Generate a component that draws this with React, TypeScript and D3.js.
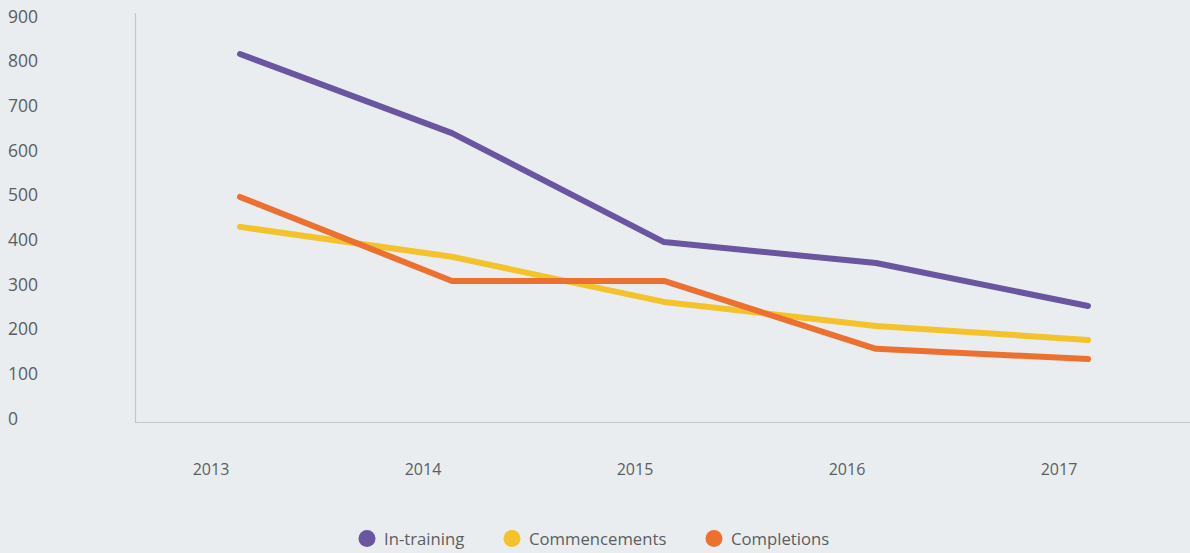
import React from "react";
import * as d3 from "d3";

const years = ["2013", "2014", "2015", "2016", "2017"];
const inTraining = [816, 639, 395, 348, 252];
const commencements = [429, 362, 261, 207, 176];
const completions = [496, 308, 308, 156, 133];
const yTicks = [0, 100, 200, 300, 400, 500, 600, 700, 800, 900];

const seriesNames = ["In-training", "Commencements", "Completions"];
const seriesColors = ["#6a55a0", "#f4c22b", "#ec7130"];

const W = 1190;
const H = 553;
const FONT = "'Open Sans', sans-serif";

export default function App() {
  const x = d3.scalePoint<string>().domain(years).range([240, 1088]);
  const y = d3.scaleLinear().domain([0, 900]).range([418.5, 16.5]);
  const seriesData = [inTraining, commencements, completions];
  const line = d3
    .line<number>()
    .x((_, i) => x(years[i]) as number)
    .y((d) => y(d));

  const legendX = [367, 512, 714];

  return (
    <svg
      width={W}
      height={H}
      style={{ position: "fixed", left: 0, top: 0, background: "#e9edf0" }}
    >
      <rect x={0} y={0} width={W} height={H} fill="#e9edf0" />
      <line x1={135.5} x2={135.5} y1={13} y2={422} stroke="#c3c7cb" strokeWidth={1.2} />
      <line x1={135} x2={W} y1={422.5} y2={422.5} stroke="#c3c7cb" strokeWidth={1.2} />
      {yTicks.map((t) => (
        <text
          key={t}
          x={8}
          y={y(t)}
          dy="0.36em"
          fontFamily={FONT}
          fontSize={17.5}
          fill="#5b5d60"
        >
          {t}
        </text>
      ))}
      {years.map((yr) => (
        <text
          key={yr}
          x={(x(yr) as number) - 29}
          y={469}
          dy="0.36em"
          textAnchor="middle"
          fontFamily={FONT}
          fontSize={16}
          fill="#5b5d60"
        >
          {yr}
        </text>
      ))}
      {seriesData.map((s, i) => (
        <path
          key={i}
          d={line(s) || ""}
          fill="none"
          stroke={seriesColors[i]}
          strokeWidth={6}
          strokeLinecap="round"
          strokeLinejoin="round"
        />
      ))}
      {seriesNames.map((n, i) => (
        <g key={n}>
          <circle cx={legendX[i]} cy={538.5} r={8.5} fill={seriesColors[i]} />
          <text
            x={legendX[i] + 17}
            y={538.5}
            dy="0.36em"
            fontFamily={FONT}
            fontSize={16.7}
            fill="#5b5d60"
          >
            {n}
          </text>
        </g>
      ))}
    </svg>
  );
}
